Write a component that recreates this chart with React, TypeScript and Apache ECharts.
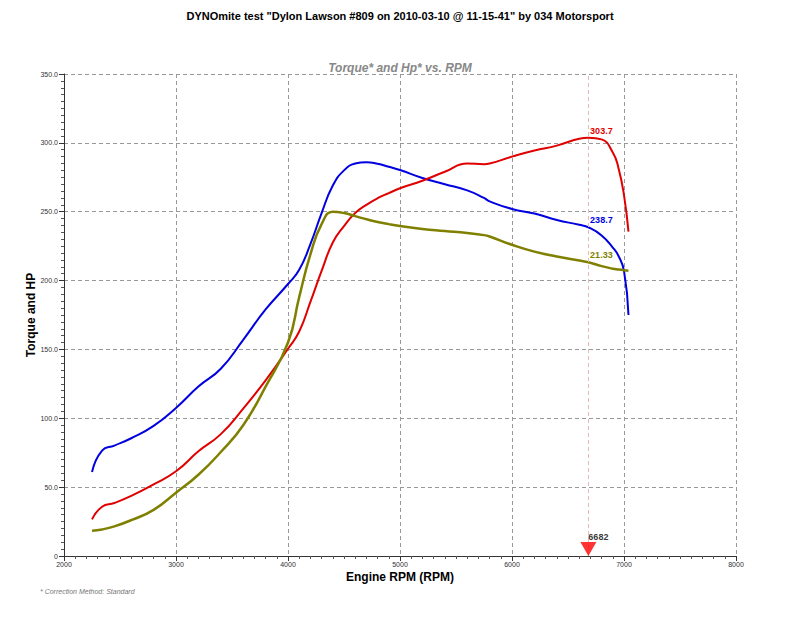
import React, { useEffect, useRef } from "react";
import * as echarts from "echarts";

const rpm = [2250, 2340, 2450, 2600, 2800, 3000, 3200, 3400, 3600, 3800, 4000, 4100, 4200, 4300, 4400, 4500, 4600, 4700, 4800, 4900, 5000, 5200, 5400, 5600, 5750, 5800, 6000, 6200, 6400, 6600, 6682, 6800, 6900, 6950, 7000, 7040];
const blueValues = [61, 76.5, 80.2, 85.5, 94.5, 107.5, 123, 136, 157, 179, 197.5, 207.8, 226.5, 249, 269, 280, 285, 286, 284.8, 282.6, 280.3, 274.5, 270, 265.5, 260, 257.5, 252, 248.7, 244, 240.5, 238.7, 232.8, 224, 218, 207, 175];
const redValues = [26.6, 35.8, 38.5, 43.6, 52, 61.5, 76, 88.5, 107, 127.5, 150.5, 163, 184.5, 207, 227.6, 239.6, 249, 255, 259.8, 263.5, 267, 272.5, 279, 285, 284.5, 285, 290, 294.5, 298, 303, 303.7, 302.5, 293, 282, 262, 235.5];
const oliveValues = [18.4, 19.3, 21.5, 26, 33.5, 46, 59, 75.5, 95, 123, 155, 188, 219, 241, 250, 249, 246.8, 244.5, 242.5, 241, 239.7, 237.5, 236, 234.5, 233, 232, 226, 221, 217.5, 214.5, 213.3, 210.5, 208.6, 208, 207.5, 207.2];

const cursorRpm = 6682;
const cursorLabels = { red: "303.7", blue: "238.7", olive: "21.33" };
const cursorValues = { red: 303.7, blue: 238.7, olive: 213.3 };

const RED = "#e00000";
const BLUE = "#0000e0";
const OLIVE = "#808000";
const FONT = "Liberation Sans";

function pairs(vals: number[]) {
  return rpm.map((r, i) => [r, vals[i]]);
}

function cursorMark(value: number, text: string, color: string) {
  return {
    symbol: "circle",
    symbolSize: 1,
    itemStyle: { color: "rgba(0,0,0,0)" },
    label: {
      show: true,
      position: "top",
      distance: 2,
      offset: [13, 0],
      formatter: text,
      color,
      fontSize: 9,
      fontWeight: "bold",
      fontFamily: FONT,
    },
    data: [{ coord: [cursorRpm, value] }],
  };
}

export default function App() {
  const ref = useRef<HTMLDivElement>(null);
  useEffect(() => {
    if (!ref.current) return;
    const chart = echarts.init(ref.current, undefined, { renderer: "svg" });
    chart.setOption({
      animation: false,
      backgroundColor: "#fff",
      title: [
        {
          text: 'DYNOmite test "Dylon Lawson #809 on 2010-03-10 @ 11-15-41" by 034 Motorsport',
          left: "center",
          top: 5,
          textStyle: { fontSize: 11, fontWeight: "bold", color: "#000", fontFamily: FONT },
        },
        {
          text: "Torque* and Hp* vs. RPM",
          left: "center",
          top: 57,
          textStyle: { fontSize: 12, fontWeight: "bold", fontStyle: "italic", color: "#888", fontFamily: FONT },
        },
      ],
      grid: { left: 64, right: 64, top: 74, bottom: 62 },
      xAxis: {
        type: "value",
        min: 2000,
        max: 8000,
        interval: 1000,
        name: "Engine RPM (RPM)",
        nameLocation: "middle",
        nameGap: 15,
        nameMoveOverlap: false,
        nameTextStyle: { fontSize: 12, fontWeight: "bold", color: "#000", fontFamily: FONT },
        axisLine: { show: true, lineStyle: { color: "#333" } },
        axisTick: { show: true, length: 5, lineStyle: { color: "#333" } },
        minorTick: { show: true, splitNumber: 10, length: 3, lineStyle: { color: "#555" } },
        axisLabel: { fontSize: 7, color: "#333", margin: 5, fontFamily: FONT, formatter: (v: number) => String(v) },
        splitLine: { show: true, lineStyle: { color: "#999", type: [4, 3] } },
      },
      yAxis: {
        type: "value",
        min: 0,
        max: 350,
        interval: 50,
        name: "Torque and HP",
        nameLocation: "middle",
        nameGap: 27,
        nameMoveOverlap: false,
        nameTextStyle: { fontSize: 12, fontWeight: "bold", color: "#000", fontFamily: FONT },
        axisLine: { show: true, lineStyle: { color: "#333" } },
        axisTick: { show: true, length: 5, lineStyle: { color: "#333" } },
        minorTick: { show: true, splitNumber: 10, length: 3, lineStyle: { color: "#555" } },
        axisLabel: {
          fontSize: 7,
          color: "#333",
          margin: 6,
          fontFamily: FONT,
          formatter: (v: number) => (v === 0 ? "0" : v.toFixed(1)),
        },
        splitLine: { show: true, lineStyle: { color: "#999", type: [4, 3] } },
      },
      graphic: [
        {
          type: "text",
          left: 40,
          top: 588,
          style: {
            text: "* Correction Method: Standard",
            fontSize: 7,
            fontStyle: "italic",
            fill: "#777",
            fontFamily: FONT,
          },
        },
      ],
      series: [
        {
          type: "line",
          name: "Torque",
          data: pairs(blueValues),
          smooth: 0.5,
          symbol: "none",
          lineStyle: { color: BLUE, width: 2 },
          markPoint: cursorMark(cursorValues.blue, cursorLabels.blue, BLUE),
          z: 3,
        },
        {
          type: "line",
          name: "Hp",
          data: pairs(redValues),
          smooth: 0.5,
          symbol: "none",
          lineStyle: { color: RED, width: 2 },
          markPoint: cursorMark(cursorValues.red, cursorLabels.red, RED),
          markLine: {
            silent: true,
            symbol: "none",
            label: { show: false },
            lineStyle: { color: "#e8b8b8", type: [4, 3], width: 1 },
            data: [{ xAxis: cursorRpm }],
          },
          z: 3,
        },
        {
          type: "line",
          name: "Other",
          data: pairs(oliveValues),
          smooth: 0.5,
          symbol: "none",
          lineStyle: { color: OLIVE, width: 2.5 },
          markPoint: cursorMark(cursorValues.olive, cursorLabels.olive, OLIVE),
          z: 3,
        },
        {
          type: "scatter",
          name: "Cursor",
          data: [[cursorRpm, 0]],
          symbol: "triangle",
          symbolRotate: 180,
          symbolSize: [16, 14],
          symbolOffset: [0, -7],
          itemStyle: { color: "#ff0000" },
          label: {
            show: true,
            position: "top",
            distance: 1,
            offset: [10, 0],
            formatter: String(cursorRpm),
            color: "#000",
            fontSize: 9,
            fontWeight: "bold",
            fontFamily: FONT,
          },
          z: 5,
        },
      ],
    });
    return () => chart.dispose();
  }, []);
  return <div ref={ref} style={{ width: 800, height: 618, margin: -8 }} />;
}
